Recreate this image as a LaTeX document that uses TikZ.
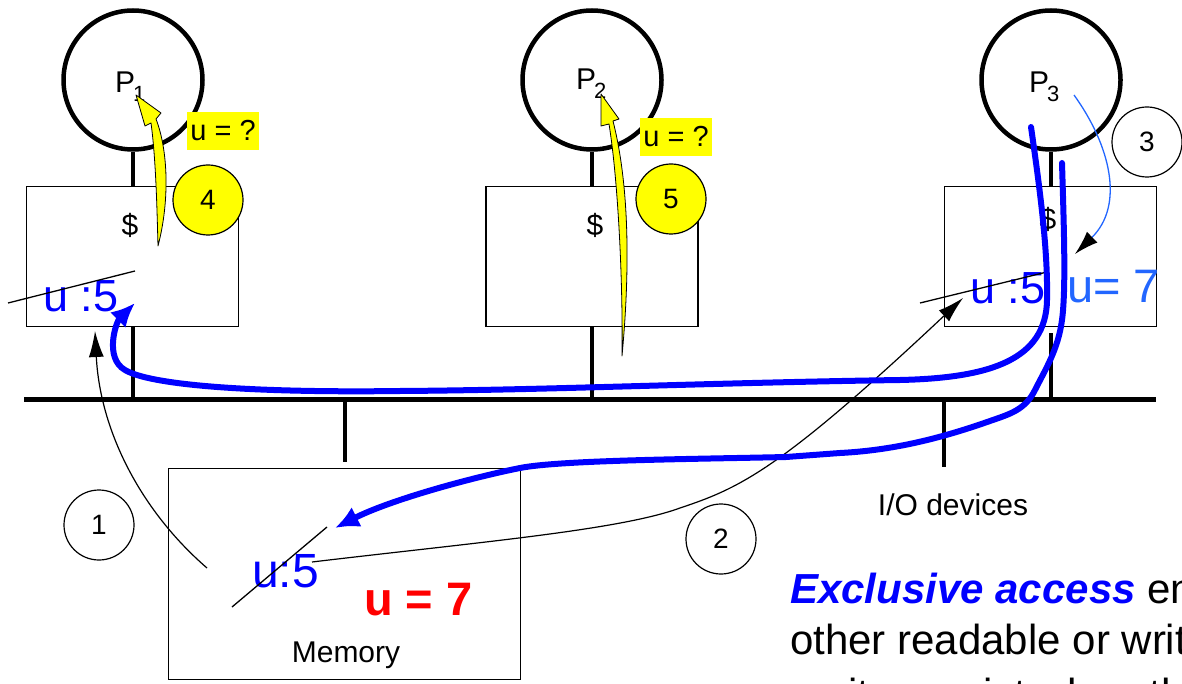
\documentclass[tikz,border=0pt]{standalone}
\usepackage{fontspec}
\setmainfont{Liberation Sans}
\usetikzlibrary{arrows.meta}
\usepackage{xcolor}
\definecolor{PureBlue}{HTML}{0000FF}
\definecolor{SoftBlue}{HTML}{2266FF}
\definecolor{MarkYellow}{HTML}{FFFF00}
\definecolor{AlarmRed}{HTML}{FF0000}
\newcommand{\fsz}[1]{\fontsize{#1}{#1}\selectfont}

\begin{document}
\begin{tikzpicture}[x=1pt,y=-1pt,
    proc/.style={circle,draw,line width=4.5pt,minimum size=139pt,inner sep=0pt},
    cachebox/.style={draw,line width=1.4pt,minimum width=212pt,minimum height=140pt,inner sep=0pt},
    membox/.style={draw,line width=1.4pt,minimum width=352pt,minimum height=211pt,inner sep=0pt},
    stem/.style={line width=4pt},
    bus/.style={line width=5pt},
    stepnum/.style={circle,draw,line width=1.2pt,minimum size=70pt,inner sep=0pt,font=\fsz{28}},
    hotnum/.style={stepnum,fill=MarkYellow},
    query/.style={fill=MarkYellow,inner sep=0pt,minimum height=38pt,minimum width=72pt,font=\fsz{29}},
    plain/.style={inner sep=0pt,font=\fsz{30}},
    val/.style={inner sep=0pt,font=\fsz{45},text=PureBlue,anchor=base west},
    claim/.style={inner sep=0pt,font=\fsz{42},anchor=base west},
    strike/.style={line width=1.3pt},
    thinarr/.style={line width=1.2pt,-{Latex[length=26pt,width=15pt]}},
    flow/.style={line width=6pt,draw=PureBlue,line cap=round,-{Latex[length=24pt,width=22pt]}},
    yarrow/.style={fill=MarkYellow,draw=black,line width=0.8pt,line join=round}
  ]
    \useasboundingbox (0,0) rectangle (1182,684);
    % processors and caches
    \node[proc] (p1) at (133,80) {};
    \node[proc] (p2) at (592,80) {};
    \node[proc] (p3) at (1051,80) {};
    \node[plain,anchor=base west] (p1name) at (115,93) {P\kern-2pt\raisebox{-9pt}{\fsz{22}1}};
    \node[plain,anchor=base west] (p2name) at (576,90) {P\kern-2pt\raisebox{-9pt}{\fsz{22}2}};
    \node[plain,anchor=base west] (p3name) at (1029,93) {P\kern-2pt\raisebox{-9pt}{\fsz{22}3}};
    \node[cachebox] (c1) at (132.5,256.5) {};
    \node[cachebox] (c2) at (592,256.5) {};
    \node[cachebox] (c3) at (1050.5,256.5) {};
    \node[plain] (d1) at (130,225) {\$};
    \node[plain] (d2) at (595,225) {\$};
    \node[plain] (d3) at (1048,219) {\$};
    % bus
    \coordinate (busL) at (24,399);
    \coordinate (busR) at (1156,399);
    \draw[bus] (busL) -- (busR);
    \draw[stem] (p1.south) -- (p1.south |- c1.north);
    \draw[stem] (p2.south) -- (p2.south |- c2.north);
    \draw[stem] (p3.south) -- (p3.south |- c3.north);
    \draw[stem] (p1.south |- c1.south) -- (p1.south |- busL);
    \draw[stem] (p2.south |- c2.south) -- (p2.south |- busL);
    \draw[stem] ([yshift=-6pt]p3.south |- c3.south) -- (p3.south |- busL);
    % memory and devices
    \node[membox] (mem) at (344.5,574) {};
    \draw[stem] (mem.north |- busL) -- ([yshift=6pt]mem.north);
    \node[plain,anchor=base] (memname) at (346,662) {Memory};
    \coordinate (io) at (944,467);
    \draw[stem] (io |- busL) -- (io);
    \node[plain] (ioname) at (953,505) {I/O devices};
    % values
    \node[val] (u1) at (43,312) {u :5};
    \draw[strike] (8,303) -- (135,271);
    \node[val] (u3) at (970,303) {u :5};
    \draw[strike] (920,303) -- (1047,272);
    \node[val,text=SoftBlue,font=\fsz{47}] (u3new) at (1067,302) {u= 7};
    \node[val,font=\fsz{48}] (umem) at (252,587) {u:5};
    \draw[strike] (232,607) -- (327,527);
    \node[val,text=AlarmRed,font=\fsz{47}\bfseries] (umemnew) at (364,615) {u = 7};
    % reads by P1 and P2
    \node[query] (q1) at (223,131) {u = ?};
    \node[query] (q2) at (676,137) {u = ?};
    \draw[yarrow] (158,246) .. controls (170,200) and (168,150) .. (156,119)
      -- (161,113) -- (136,95) -- (145,126) -- (151,123)
      .. controls (156,160) and (157,210) .. (158,246) -- cycle;
    \draw[yarrow] (622,356) .. controls (631,260) and (628,180) .. (613,121)
      -- (619,119) -- (601,94) -- (601,126) -- (609,124)
      .. controls (618,180) and (623,280) .. (622,356) -- cycle;
    \node[hotnum] (s4) at (208,200) {4};
    \node[hotnum] (s5) at (671,199) {5};
    % steps 1 to 3
    \node[stepnum] (s1) at (99,525) {1};
    \node[stepnum] (s2) at (721,539) {2};
    \node[stepnum] (s3) at (1147,142) {3};
    \coordinate (r1) at (207,568);
    \coordinate (r1end) at (95,331);
    \draw[thinarr] (r1) .. controls (140,510) and (100,430) .. (r1end);
    \coordinate (r2) at (312,562);
    \coordinate (r2end) at (963,298);
    \draw[thinarr] (r2) .. controls (480,542) and (620,530) .. (680,508)
      .. controls (740,488) and (780,470) .. (r2end);
    \coordinate (w3) at (1074,95);
    \coordinate (w3end) at (1075,254);
    \draw[line width=1.3pt,SoftBlue,-{Latex[length=24pt,width=15pt,color=black]}]
      (w3) .. controls (1110,145) and (1125,205) .. (w3end);
    % transfers of the written value
    \coordinate (f4) at (1031,127);
    \coordinate (f4end) at (135,303);
    \draw[flow] (f4) .. controls (1040,190) and (1048,250) .. (1047,300)
      .. controls (1046,360) and (990,378) .. (900,380)
      .. controls (700,383) and (550,390) .. (400,391)
      .. controls (250,393) and (150,385) .. (125,370)
      .. controls (104,358) and (116,322) .. (f4end);
    \coordinate (f5) at (1062,163);
    \coordinate (f5end) at (335,528);
    \draw[flow] (f5) .. controls (1064,230) and (1066,290) .. (1062,320)
      .. controls (1058,350) and (1045,370) .. (1035,390)
      .. controls (1025,410) and (1010,414) .. (990,421)
      .. controls (950,435) and (900,450) .. (840,453)
      -- (786,457) .. controls (700,459) and (560,460) .. (520,468)
      .. controls (470,478) and (390,500) .. (f5end);
    % caption
    \node[claim] (claimA) at (790,603) {{\color{PureBlue}\bfseries\itshape Exclusive access} ensures that no};
    \node[claim] (claimB) at (790,654) {other readable or writable copies of};
    \node[claim] (claimC) at (790,708) {an item exist when the write occurs};
  \end{tikzpicture}
\end{document}
